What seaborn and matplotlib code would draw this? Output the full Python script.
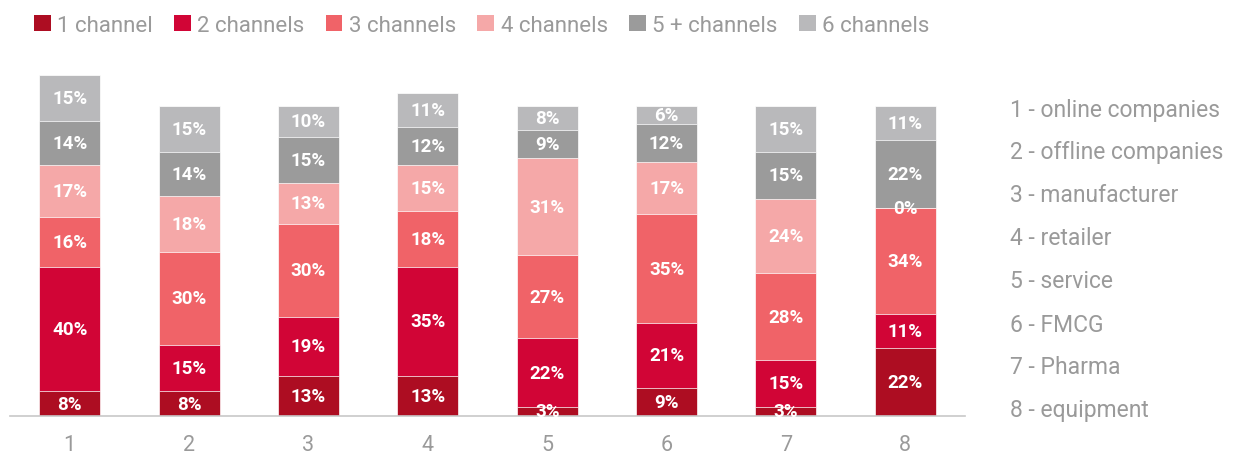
import matplotlib
matplotlib.use("Agg")
import matplotlib.pyplot as plt
import seaborn as sns
import numpy as np
import pandas as pd
from matplotlib.patches import Patch

# Share of companies by number of sales channels, per company group
groups = ["1", "2", "3", "4", "5", "6", "7", "8"]
series_names = ["1 channel", "2 channels", "3 channels", "4 channels",
                "5 + channels", "6 channels"]
one_channel = [8, 8, 13, 13, 3, 9, 3, 22]
two_channels = [40, 15, 19, 35, 22, 21, 15, 11]
three_channels = [16, 30, 30, 18, 27, 35, 28, 34]
four_channels = [17, 18, 13, 15, 31, 17, 24, 0]
five_plus_channels = [14, 14, 15, 12, 9, 12, 15, 22]
six_channels = [15, 15, 10, 11, 8, 6, 15, 11]
group_names = ["1 - online companies", "2 - offline companies",
               "3 - manufacturer", "4 - retailer", "5 - service",
               "6 - FMCG", "7 - Pharma", "8 - equipment"]

colors = ["#AD0D22", "#D10536", "#F06368", "#F5A8A8", "#9B9B9B", "#B9B9BB"]
text_gray = "#9A9A9A"

sns.set_theme(style="white")
plt.rcParams["font.family"] = ["Roboto", "DejaVu Sans"]

values = np.array([one_channel, two_channels, three_channels, four_channels,
                   five_plus_channels, six_channels], dtype=float)
tops = values.cumsum(axis=0)
bottoms = tops - values

fig = plt.figure(figsize=(12.35, 4.56), dpi=100)
ax = fig.add_axes([10 / 1235, 39 / 456, 955 / 1235, 360 / 456])

# Stack by drawing cumulative totals from the top series down
for i in reversed(range(len(series_names))):
    df = pd.DataFrame({"group": groups, "total": tops[i]})
    sns.barplot(data=df, x="group", y="total", order=groups, color=colors[i],
                width=0.51, saturation=1, edgecolor="#FFFFFF", linewidth=0.5,
                ax=ax)

for i in range(len(series_names)):
    for j in range(len(groups)):
        y = bottoms[i, j] + values[i, j] / 2
        ax.text(j, y, f"{int(values[i, j])}%", ha="center", va="center",
                color="white", fontsize=13.5, fontweight="bold")

ax.set_xlim(-0.5, 7.5)
ax.set_ylim(0, 116)
ax.set_xlabel("")
ax.set_ylabel("")
ax.set_yticks([])
ax.tick_params(axis="x", length=0, pad=13, labelsize=15.5, labelcolor=text_gray)
for side in ["top", "left", "right"]:
    ax.spines[side].set_visible(False)
ax.spines["bottom"].set_color("#C8C8C8")
ax.spines["bottom"].set_linewidth(1.2)

handles = [Patch(facecolor=c, edgecolor="none") for c in colors]
leg = fig.legend(handles, series_names, loc="upper left", ncol=6,
                 bbox_to_anchor=(25 / 1235, 0.985), frameon=False,
                 fontsize=16, handlelength=0.75, handleheight=0.75,
                 handletextpad=0.3, columnspacing=0.95, borderaxespad=0)
for t in leg.get_texts():
    t.set_color(text_gray)

for k, name in enumerate(group_names):
    fig.text(1010 / 1235, 1 - (110 + k * 43) / 456, name, ha="left",
             va="center", fontsize=16.5, color=text_gray)

fig.savefig("out.png", dpi=100)
